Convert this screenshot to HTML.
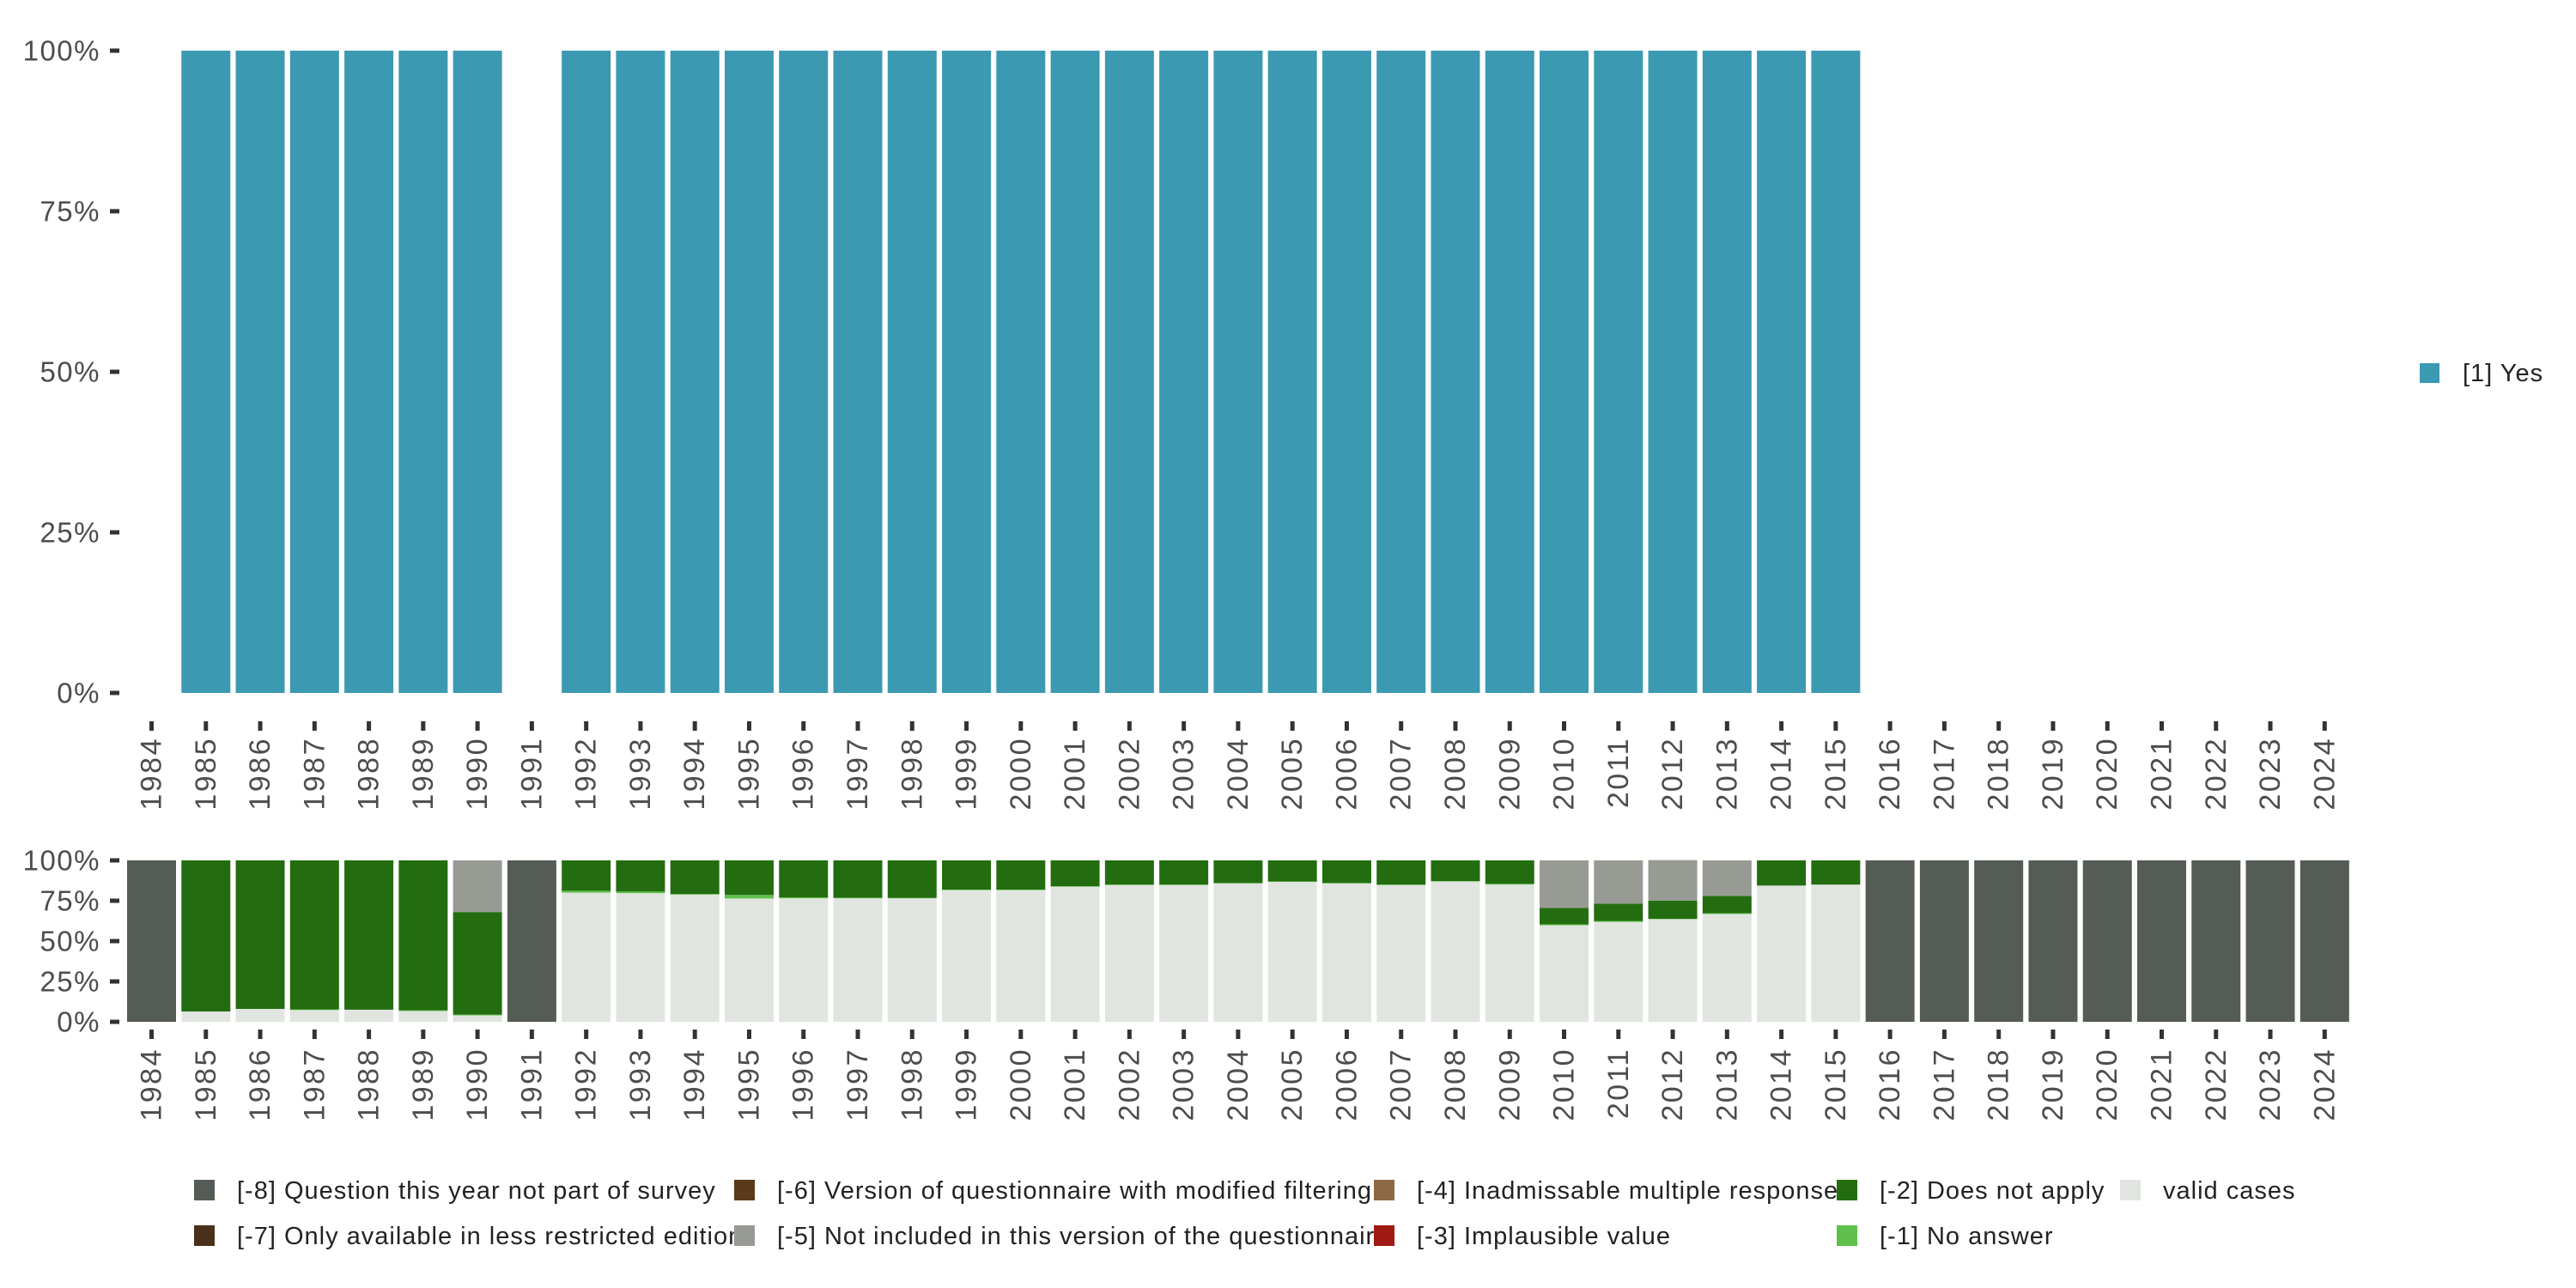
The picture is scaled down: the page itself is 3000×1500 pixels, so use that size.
<!DOCTYPE html>
<html><head><meta charset="utf-8"><style>
html,body{margin:0;padding:0;background:#fff;}
svg{display:block;font-family:"Liberation Sans",sans-serif;}
</style></head><body>
<svg id="chart" width="3000" height="1500" viewBox="0 0 3000 1500" xmlns="http://www.w3.org/2000/svg">
<g id="topPanel"></g>
<g id="botPanel"></g>
<g id="legPanel"></g>
</svg>
<script>
const years = [1984,1985,1986,1987,1988,1989,1990,1991,1992,1993,1994,1995,1996,1997,1998,1999,2000,2001,2002,2003,2004,2005,2006,2007,2008,2009,2010,2011,2012,2013,2014,2015,2016,2017,2018,2019,2020,2021,2022,2023,2024];
const yesShare = [null,100,100,100,100,100,100,null,100,100,100,100,100,100,100,100,100,100,100,100,100,100,100,100,100,100,100,100,100,100,100,100,null,null,null,null,null,null,null,null,null];
const validShare = [0,6.4,8,7.3,7.5,6.7,4,0,80,79.7,78.8,76.4,76.5,76.5,76.5,81.6,81.6,83.7,84.7,84.7,85.7,86.7,85.7,84.7,86.9,85,59.8,61.9,63.6,66.8,84.4,85,0,0,0,0,0,0,0,0,0];
const noAnswerShare = [0,0,0,0.4,0,0.4,0.5,0,1.2,1,0.4,2.2,0.6,0.4,0.3,0.3,0.3,0.3,0.3,0.3,0.3,0.3,0.3,0.3,0.3,0.5,0.6,0.6,0.2,0.5,0,0,0,0,0,0,0,0,0,0,0];
const notApplyShare = [0,93.6,92,92.3,92.5,92.9,63.5,0,18.8,19.3,20.8,21.4,22.9,23.1,23.2,18.1,18.1,16,15,15,14,13,14,15,12.8,14.5,10.1,10.7,11.3,10.7,15.6,15,0,0,0,0,0,0,0,0,0];
const notIncludedShare = [0,0,0,0,0,0,32,0,0,0,0,0,0,0,0,0,0,0,0,0,0,0,0,0,0,0,29.5,26.8,25.1,22,0,0,0,0,0,0,0,0,0,0,0];
const notSurveyShare = [100,0,0,0,0,0,0,100,0,0,0,0,0,0,0,0,0,0,0,0,0,0,0,0,0,0,0,0,0,0,0,0,100,100,100,100,100,100,100,100,100];
const pctTicks = [0,25,50,75,100];
const pctLabels = ["0%","25%","50%","75%","100%"];
const legendLabels = ["[-8] Question this year not part of survey","[-7] Only available in less restricted edition","[-6] Version of questionnaire with modified filtering","[-5] Not included in this version of the questionnaire","[-4] Inadmissable multiple response","[-3] Implausible value","[-2] Does not apply","[-1] No answer","valid cases"];
const legendColors = ["#555c55","#4b3019","#5a3a1a","#979b93","#8b6a45","#a01a14","#236d10","#5ec04a","#e1e5e0"];

const NS="http://www.w3.org/2000/svg";
function mk(parent,tag,attrs,text){const e=document.createElementNS(NS,tag);for(const k in attrs)e.setAttribute(k,attrs[k]);if(text!=null)e.textContent=text;parent.appendChild(e);return e;}
const x0=176.5, step=63.27, bw=57;
const xc=i=>x0+i*step;
const topY=v=>807-(v/100)*748;
const botY=v=>1190-(v/100)*188;

function yAxis(g,yf,name){
  pctTicks.forEach((t,i)=>{
    const tk=mk(g,'rect',{x:128,y:yf(t)-2.5,width:11,height:5,fill:'#333'});
    
    
    const tx=mk(g,'text',{x:117,y:yf(t),'text-anchor':'end','dominant-baseline':'central','font-size':33,'letter-spacing':1.5,fill:'#4d4d4d'},pctLabels[i]);
    
    
  });
}
function xAxis(g,tickY,labY,name){
  years.forEach((yr,i)=>{
    const tk=mk(g,'rect',{x:xc(i)-2.5,y:tickY,width:5,height:11,fill:'#333'});
    
    
    const tx=mk(g,'text',{transform:`translate(${xc(i)},${labY}) rotate(-90)`,'text-anchor':'end','dominant-baseline':'central','font-size':34,'letter-spacing':2.5,fill:'#4d4d4d'},String(yr));
    
    
  });
}
const topG=document.getElementById('topPanel');
yesShare.forEach((v,i)=>{
  if(v==null)return;
  const r=mk(topG,'rect',{x:xc(i)-bw/2,y:topY(v),width:bw,height:topY(0)-topY(v),fill:'#3c99b2'});
  
  
});
yAxis(topG,topY,'top-y-axis');
xAxis(topG,840,858,'top-x-axis');
const ly=mk(topG,'rect',{x:2818,y:423,width:23,height:23,fill:'#3c99b2'});


const lt=mk(topG,'text',{x:2868,y:435,'dominant-baseline':'central','font-size':29,'letter-spacing':1,fill:'#222'},'[1] Yes');



const botG=document.getElementById('botPanel');
const series=[[validShare,'#e1e5e0','valid'],[noAnswerShare,'#5ec04a','no-answer'],[notApplyShare,'#236d10','does-not-apply'],[notIncludedShare,'#979b93','not-included'],[notSurveyShare,'#555c55','not-survey']];
years.forEach((yr,i)=>{
  let cum=0;
  series.forEach(([arr,col,nm])=>{
    const v=arr[i]; if(!v)return;
    const r=mk(botG,'rect',{x:xc(i)-bw/2,y:botY(cum+v),width:bw,height:botY(cum)-botY(cum+v),fill:col});
    
    
    cum+=v;
  });
});
yAxis(botG,botY,'bottom-y-axis');
xAxis(botG,1199,1220,'bottom-x-axis');

const legG=document.getElementById('legPanel');
const colX=[226,855,1600,2139,2469];
legendLabels.forEach((lab,i)=>{
  const c=Math.floor(i/2), r=i%2;
  const y=r?1427:1374;
  const sw=mk(legG,'rect',{x:colX[c],y:y,width:24,height:24,fill:legendColors[i]});
  
  
  const t=mk(legG,'text',{x:colX[c]+50,y:y+13,'dominant-baseline':'central','font-size':29,'letter-spacing':1,fill:'#222'},lab);
  
  
});
</script>
</body></html>
